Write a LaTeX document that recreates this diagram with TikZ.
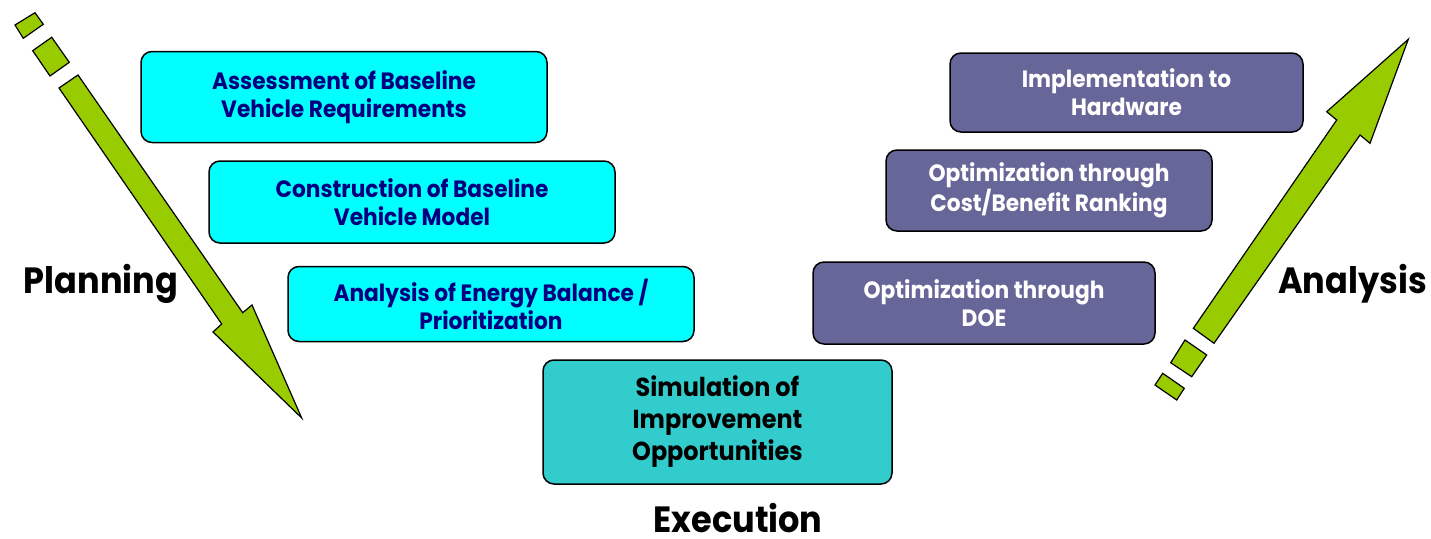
\documentclass[tikz,border=0pt]{standalone}
\usepackage{fontspec}
\setmainfont{Poppins}[FakeStretch=0.92]
\definecolor{boxcyan}{HTML}{00FFFF}
\definecolor{navytext}{HTML}{000080}
\definecolor{simteal}{HTML}{33CCCC}
\definecolor{anapurple}{HTML}{666699}
\definecolor{arrowgreen}{HTML}{99CC00}
\begin{document}
\begin{tikzpicture}[x=1pt,y=-1pt]
\useasboundingbox (0,0) rectangle (1431,538);
\tikzset{
  stagebox/.style={draw=black, line width=1.5pt, rounded corners=11pt, inner sep=0pt, align=center,
    font=\bfseries\fontsize{23.6}{28}\selectfont},
  planbox/.style={stagebox, fill=boxcyan, text=navytext},
  simbox/.style={stagebox, fill=simteal, text=black, font=\bfseries\fontsize{26}{32}\selectfont},
  anabox/.style={stagebox, fill=anapurple, text=white},
  phaselabel/.style={font=\bfseries\fontsize{36.5}{40}\selectfont, text=black, anchor=base, inner sep=0pt},
  greenshape/.style={draw=black, line width=1.2pt, fill=arrowgreen, line join=miter},
}
% Planning arrow
\draw[greenshape] (15,25) -- (35,12.7) -- (43.3,24.3) -- (23.3,38.3) -- cycle;
\draw[greenshape] (32.7,50.7) -- (51.7,37.3) -- (69.3,62.3) -- (50,76) -- cycle;
\draw[greenshape] (59,88) -- (78,75) -- (242.7,312.7) -- (252,305) -- (301.7,418) -- (213,332) -- (221.7,324) -- cycle;
% Analysis arrow
\draw[greenshape] (1155,385) -- (1162.7,373.3) -- (1184.3,388.3) -- (1176.7,400) -- cycle;
\draw[greenshape] (1170.7,362.7) -- (1185,340) -- (1206.7,355) -- (1191.7,376.7) -- cycle;
\draw[greenshape] (1193.3,328.3) -- (1336.7,120) -- (1326.7,111.7) -- (1408.3,39.3) -- (1370,143.3) -- (1360,135) -- (1214,343.3) -- cycle;

% Planning boxes
\node[planbox, minimum width=406pt, minimum height=91pt] (assess) at (344,97) {Assessment of Baseline\\Vehicle Requirements};
\node[planbox, minimum width=406pt, minimum height=82pt] (construct) at (412,202) {Construction of Baseline\\Vehicle Model};
\node[planbox, minimum width=406pt, minimum height=75pt] (energy) at (491,304) {Analysis of Energy Balance /\\Prioritization};
% Execution box
\node[simbox, minimum width=349pt, minimum height=124pt] (sim) at (717.5,422) {Simulation of\\Improvement\\Opportunities};
% Analysis boxes
\node[anabox, minimum width=342pt, minimum height=82pt] (doe) at (984,303) {Optimization through\\DOE};
\node[anabox, minimum width=326pt, minimum height=81pt] (cost) at (1049,190.5) {Optimization through\\Cost/Benefit Ranking};
\node[anabox, minimum width=353pt, minimum height=79pt] (impl) at (1126.5,92.5) {Implementation to\\Hardware};

% Phase labels
\node[phaselabel] (planning) at (101,293) {Planning};
\node[phaselabel] (execution) at (738,532) {Execution};
\node[phaselabel] (analysis) at (1352.5,293) {Analysis};
\end{tikzpicture}
\end{document}
